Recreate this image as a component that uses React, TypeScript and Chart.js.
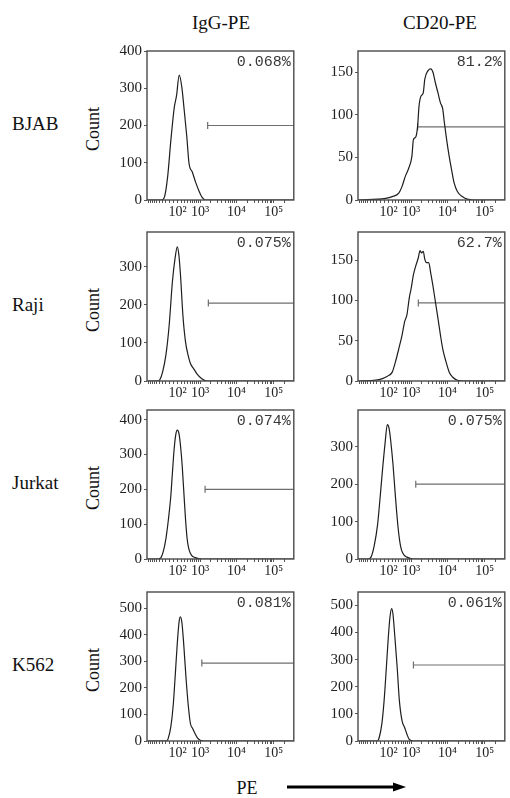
import React, { useEffect, useRef } from 'react';
import { Chart, registerables, LinearScale } from 'chart.js';

Chart.register(...registerables);

// ---------- biexponential (logicle-like) display transform ----------
const COFACTOR = 400;
const toDisp = (v: number) => Math.asinh(v / COFACTOR) / Math.LN10;
const fromDisp = (t: number) => COFACTOR * Math.sinh(t * Math.LN10);

class BiexpScale extends LinearScale {
  static id = 'biexp';
  static defaults = {};
  getPixelForValue(value: number) {
    const a = toDisp(this.min);
    const b = toDisp(this.max);
    return this.getPixelForDecimal((toDisp(value) - a) / (b - a));
  }
  getValueForPixel(pixel: number) {
    const a = toDisp(this.min);
    const b = toDisp(this.max);
    return fromDisp(a + this.getDecimalForPixel(pixel) * (b - a));
  }
}
Chart.register(BiexpScale as any);

// ---------- axis data ----------
const X_MIN = -1000;
const X_MAX = 350000;
const X_MAJOR = [100, 1000, 10000, 100000];
const X_MAJOR_LABELS = ['10²', '10³', '10⁴', '10⁵'];
const X_MINOR = [
  -900, -800, -700, -600, -500, -400, -300, -200, -100, 0,
  200, 300, 400, 500, 600, 700, 800, 900,
  2000, 3000, 4000, 5000, 6000, 7000, 8000, 9000,
  20000, 30000, 40000, 50000, 60000, 70000, 80000, 90000, 200000,
];

const COLUMN_TITLES = ['IgG-PE', 'CD20-PE'];
const ROW_LABELS = ['BJAB', 'Raji', 'Jurkat', 'K562'];
const Y_TITLE = 'Count';
const X_TITLE = 'PE';

// ---------- histogram data (PE intensity, cell count) ----------
const bjabIgGPE = [-1000, -330, -241, -150, -65, 18, 75, 144, 215, 282, 367, 448, 579, 736, 924, 1150, 1425, 350000];
const bjabIgGCount = [0, 0, 7, 62, 162, 248, 280, 335, 303, 244, 171, 98, 75, 48, 25, 7, 0, 0];

const bjabCD20PE = [-1000, 29, 199, 402, 527, 674, 847, 1054, 1171, 1362, 1537, 1677, 1898, 2196, 2423, 2978, 3514, 4035, 4672, 5500, 6434, 7412, 8202, 9446, 11106, 12794, 15042, 18416, 24940, 33780, 50620, 350000];
const bjabCD20Count = [0, 2, 4, 8, 16, 28, 37, 51, 71, 74, 87, 110, 122, 126, 142, 152, 154, 150, 138, 126, 114, 107, 91, 71, 51, 36, 20, 10, 4, 1, 0, 0];

const rajiIgGPE = [-1000, -480, -378, -292, -197, -110, -28, 37, 95, 138, 181, 246, 326, 413, 501, 643, 809, 1124, 1537, 350000];
const rajiIgGCount = [0, 0, 4, 24, 68, 146, 261, 322, 353, 329, 275, 173, 103, 68, 46, 32, 19, 6, 0, 0];

const rajiCD20PE = [-1000, -225, -52, 70, 199, 294, 402, 527, 643, 753, 885, 1007, 1171, 1362, 1604, 1788, 1971, 2196, 2423, 2690, 3092, 3514, 4035, 4672, 5500, 6434, 7412, 9074, 11106, 13596, 18416, 27600, 350000];
const rajiCD20Count = [0, 1, 3, 6, 11, 24, 40, 57, 74, 82, 103, 115, 132, 143, 153, 162, 159, 161, 151, 147, 147, 134, 118, 99, 78, 57, 40, 24, 11, 5, 1, 0, 0];

const jurkatIgGPE = [-1000, -450, -345, -273, -197, -128, -68, -28, 13, 54, 95, 138, 181, 227, 275, 326, 380, 437, 540, 720, 1124, 350000];
const jurkatIgGCount = [0, 0, 4, 21, 58, 115, 181, 247, 313, 356, 370, 360, 323, 266, 190, 115, 58, 30, 11, 4, 0, 0];

const jurkatCD20PE = [-1000, -480, -378, -273, -179, -119, -52, 13, 70, 112, 155, 218, 294, 380, 463, 553, 753, 1171, 350000];
const jurkatCD20Count = [0, 0, 5, 36, 91, 155, 236, 309, 359, 350, 318, 255, 164, 82, 36, 16, 5, 0, 0];

const k562IgGPE = [-1000, -179, -136, -68, -11, 46, 95, 138, 172, 218, 275, 347, 424, 501, 596, 705, 847, 1007, 1303, 350000];
const k562IgGCount = [0, 0, 9, 53, 129, 256, 370, 446, 468, 446, 357, 230, 129, 66, 47, 28, 11, 3, 0, 0];

const k562CD20PE = [-1000, -190, -136, -68, -11, 46, 95, 138, 181, 218, 275, 347, 424, 527, 643, 753, 885, 1171, 350000];
const k562CD20Count = [0, 0, 12, 62, 148, 272, 383, 457, 488, 469, 383, 272, 148, 74, 49, 25, 6, 0, 0];

// gate (marker) start PE value and height in counts, per panel
const GATE_START = [1640, 1537, 1714, 1604, 1391, 1362, 1124, 1171];
const GATE_COUNT = [200, 86, 205, 97, 200, 200, 294, 280];
const PERCENT_LABELS = ['0.068%', '81.2%', '0.075%', '62.7%', '0.074%', '0.075%', '0.081%', '0.061%'];
const Y_MAX = [400, 175, 392, 185, 428, 398, 562, 549];
const Y_TICKS_A = [0, 100, 200, 300, 400, 500];
const Y_TICKS_B = [0, 50, 100, 150];
const Y_TICK_SETS = [Y_TICKS_A, Y_TICKS_B, Y_TICKS_A, Y_TICKS_B, Y_TICKS_A, Y_TICKS_A, Y_TICKS_A, Y_TICKS_A];

const SERIES_PE = [bjabIgGPE, bjabCD20PE, rajiIgGPE, rajiCD20PE, jurkatIgGPE, jurkatCD20PE, k562IgGPE, k562CD20PE];
const SERIES_COUNT = [bjabIgGCount, bjabCD20Count, rajiIgGCount, rajiCD20Count, jurkatIgGCount, jurkatCD20Count, k562IgGCount, k562CD20Count];

// ---------- layout ----------
const COL_BOX_LEFT = [147, 358];
const ROW_BOX_TOP = [51, 232, 410, 592];
const BOX_W = 150;
const BOX_H = 149;
const Y_AXIS_W = 45;
const PAD_TOP = 12;
const PAD_RIGHT = 2;
const X_AXIS_H = 22;
const CANVAS_W = Y_AXIS_W + BOX_W + PAD_RIGHT;
const CANVAS_H = PAD_TOP + BOX_H + X_AXIS_H;
const SERIF = '"Liberation Serif", "Times New Roman", serif';

const framePlugin = {
  id: 'frame',
  afterDraw(chart: any, _args: any, opts: any) {
    const { ctx, chartArea: a } = chart;
    ctx.save();
    ctx.strokeStyle = '#4a4a4a';
    ctx.lineWidth = 1.4;
    ctx.strokeRect(a.left, a.top, a.right - a.left, a.bottom - a.top);
    ctx.fillStyle = '#383838';
    ctx.font = '15px "Liberation Mono", monospace';
    ctx.textAlign = 'right';
    ctx.textBaseline = 'middle';
    ctx.fillText(opts.text, a.right - 3, a.top + 11);
    ctx.restore();
  },
};

function Panel({ idx }: { idx: number }) {
  const ref = useRef<HTMLCanvasElement>(null);
  useEffect(() => {
    if (!ref.current) return;
    const pe = SERIES_PE[idx];
    const cnt = SERIES_COUNT[idx];
    const xTicks = [...X_MINOR, ...X_MAJOR].sort((p, q) => p - q);
    const yTicks = Y_TICK_SETS[idx].filter((v) => v <= Y_MAX[idx]);
    const chart = new Chart(ref.current, {
      type: 'line',
      data: {
        datasets: [
          {
            data: pe.map((x, i) => ({ x, y: cnt[i] })),
            borderColor: '#1e1e1e',
            borderWidth: 1.2,
            pointRadius: 0,
            cubicInterpolationMode: 'monotone',
            fill: false,
          },
          {
            data: [
              { x: GATE_START[idx], y: GATE_COUNT[idx] },
              { x: X_MAX, y: GATE_COUNT[idx] },
            ],
            borderColor: '#6e6e6e',
            borderWidth: 1.2,
            pointStyle: 'line',
            rotation: 90,
            pointRadius: [3.5, 0],
            pointBorderColor: '#6e6e6e',
            pointBorderWidth: 1.2,
            fill: false,
          },
        ],
      },
      options: {
        responsive: false,
        animation: false,
        layout: { padding: { top: PAD_TOP, right: PAD_RIGHT, left: 0, bottom: 0 } },
        plugins: {
          legend: { display: false },
          tooltip: { enabled: false },
          frame: { text: PERCENT_LABELS[idx] },
        } as any,
        scales: {
          x: {
            type: 'biexp' as any,
            min: X_MIN,
            max: X_MAX,
            afterBuildTicks: (s: any) => {
              s.ticks = xTicks.map((v) => ({ value: v }));
            },
            afterFit: (s: any) => {
              s.height = X_AXIS_H;
            },
            ticks: {
              autoSkip: false,
              maxRotation: 0,
              padding: 1,
              color: '#222',
              font: { family: SERIF, size: 14 },
              callback: (v: any) => {
                const i = X_MAJOR.indexOf(Number(v));
                return i >= 0 ? X_MAJOR_LABELS[i] : '';
              },
            },
            grid: { display: true, drawOnChartArea: false, drawTicks: true, tickLength: 3, color: '#555' },
            border: { display: false },
          } as any,
          y: {
            min: 0,
            max: Y_MAX[idx],
            afterBuildTicks: (s: any) => {
              s.ticks = yTicks.map((v) => ({ value: v }));
            },
            afterFit: (s: any) => {
              s.width = Y_AXIS_W;
            },
            ticks: {
              autoSkip: false,
              padding: 2,
              color: '#222',
              font: { family: SERIF, size: 15 },
            },
            grid: { display: true, drawOnChartArea: false, drawTicks: true, tickLength: 3, color: '#555' },
            border: { display: false },
          } as any,
        },
      },
      plugins: [framePlugin as any],
    });
    return () => chart.destroy();
  }, [idx]);
  const row = Math.floor(idx / 2);
  const col = idx % 2;
  return (
    <canvas
      ref={ref}
      width={CANVAS_W}
      height={CANVAS_H}
      style={{
        position: 'absolute',
        left: COL_BOX_LEFT[col] - Y_AXIS_W,
        top: ROW_BOX_TOP[row] - PAD_TOP,
        width: CANVAS_W,
        height: CANVAS_H,
      }}
    />
  );
}

const COL_TITLE_X = [221, 440];

export default function App() {
  return (
    <div
      style={{
        position: 'absolute',
        left: 0,
        top: 0,
        width: 510,
        height: 798,
        overflow: 'hidden',
        background: '#fff',
        fontFamily: SERIF,
        color: '#111',
      }}
    >
      {COLUMN_TITLES.map((t, i) => (
        <div
          key={t}
          style={{ position: 'absolute', left: COL_TITLE_X[i], top: 12, transform: 'translateX(-50%)', fontSize: 19, lineHeight: '22px', whiteSpace: 'nowrap' }}
        >
          {t}
        </div>
      ))}
      {ROW_LABELS.map((t, r) => {
        const cy = ROW_BOX_TOP[r] + BOX_H / 2;
        return (
          <React.Fragment key={t}>
            <div style={{ position: 'absolute', left: 12, top: cy - 2 - 11, fontSize: 19, lineHeight: '22px', whiteSpace: 'nowrap' }}>{t}</div>
            <div
              style={{
                position: 'absolute',
                left: 93,
                top: cy + 3,
                transform: 'translate(-50%, -50%) rotate(-90deg)',
                fontSize: 18,
                lineHeight: '22px',
                whiteSpace: 'nowrap',
              }}
            >
              {Y_TITLE}
            </div>
          </React.Fragment>
        );
      })}
      {[0, 1, 2, 3, 4, 5, 6, 7].map((i) => (
        <Panel key={i} idx={i} />
      ))}
      <div style={{ position: 'absolute', left: 247, top: 777, transform: 'translateX(-50%)', fontSize: 18, lineHeight: '22px' }}>{X_TITLE}</div>
      <svg style={{ position: 'absolute', left: 285, top: 780 }} width={125} height={14}>
        <line x1={2} y1={7} x2={110} y2={7} stroke="#000" strokeWidth={3} />
        <polygon points="108,2.5 121,7 108,11.5" fill="#000" />
      </svg>
    </div>
  );
}
